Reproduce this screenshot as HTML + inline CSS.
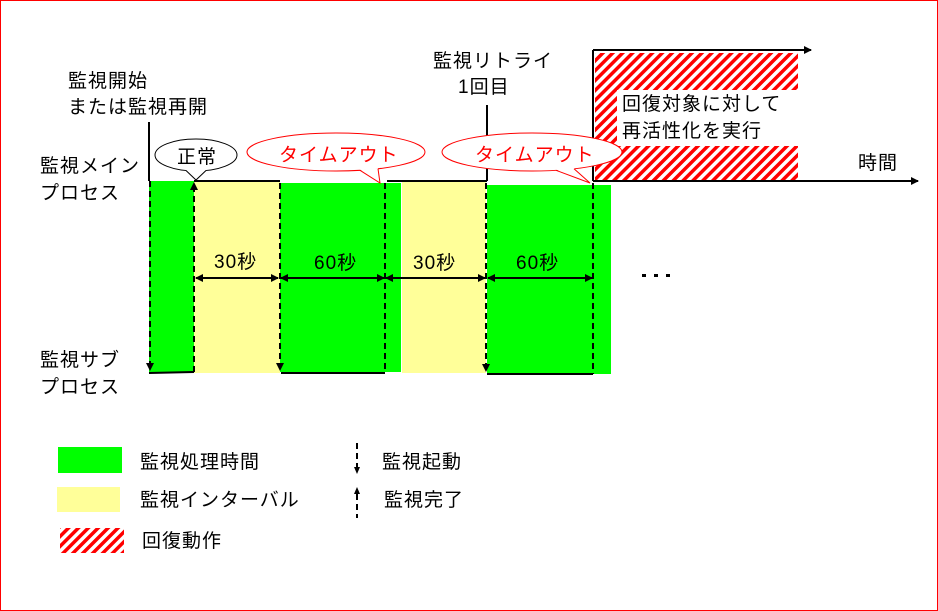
<!DOCTYPE html>
<html><head><meta charset="utf-8"><style>
html,body{margin:0;padding:0;background:#fff}
svg{display:block}
text{font-family:"Liberation Sans","Noto Sans CJK JP",sans-serif;font-size:19px;fill:#000;letter-spacing:1px}
</style></head><body>
<svg width="938" height="611" viewBox="0 0 938 611" xmlns="http://www.w3.org/2000/svg">
<defs>
<pattern id="h" width="7" height="7" patternUnits="userSpaceOnUse" patternTransform="rotate(45)">
<rect width="7" height="7" fill="#fff"/><rect width="3.5" height="7" fill="#f00"/>
</pattern>
<marker id="a" markerWidth="8" markerHeight="8" refX="7" refY="4" orient="auto" markerUnits="userSpaceOnUse"><path d="M0,0 L8,4 L0,8z" fill="#000"/></marker>
<marker id="b" markerWidth="8" markerHeight="8" refX="1" refY="4" orient="auto" markerUnits="userSpaceOnUse"><path d="M8,0 L0,4 L8,8z" fill="#000"/></marker>
</defs>
<rect x="0.5" y="0.5" width="937" height="610" fill="#fff" stroke="#f00"/>
<rect x="149" y="181" width="45" height="192" fill="#00ff00"/>
<rect x="194" y="181" width="86" height="192" fill="#ffff99"/>
<rect x="280" y="183" width="121" height="189" fill="#00ff00"/>
<rect x="402" y="181" width="84" height="192" fill="#ffff99"/>
<rect x="487" y="185" width="124" height="189" fill="#00ff00"/>
<rect x="595" y="53" width="203" height="128" fill="url(#h)"/>
<rect x="617" y="90" width="182" height="56" fill="#fff"/>
<g stroke="#000" stroke-width="2" fill="none">
<line x1="149" y1="122" x2="149" y2="181"/>
<line x1="194" y1="181" x2="280" y2="181"/>
<line x1="387" y1="181" x2="487" y2="181"/>
<line x1="487" y1="105" x2="487" y2="181"/>
<line x1="593" y1="181" x2="918" y2="181" marker-end="url(#a)"/>
<line x1="593" y1="181" x2="593" y2="50"/>
<line x1="593" y1="50" x2="811" y2="50" marker-end="url(#a)"/>
<line x1="149" y1="373" x2="194" y2="372"/>
<line x1="281" y1="373" x2="385" y2="373"/>
<line x1="487" y1="374" x2="593" y2="374"/>
</g>
<g stroke="#000" stroke-width="2" stroke-dasharray="6,4" fill="none">
<line x1="150" y1="181" x2="150" y2="370" marker-end="url(#a)"/>
<line x1="194" y1="372" x2="194" y2="183" marker-end="url(#a)"/>
<line x1="280" y1="183" x2="280" y2="370" marker-end="url(#a)"/>
<line x1="385" y1="183" x2="385" y2="373"/>
<line x1="486" y1="183" x2="486" y2="371" marker-end="url(#a)"/>
<line x1="593" y1="183" x2="593" y2="374"/>
</g>
<g stroke="#000" stroke-width="2" fill="none">
<line x1="196" y1="278" x2="278" y2="278" marker-start="url(#b)" marker-end="url(#a)"/>
<line x1="281" y1="278" x2="384" y2="278" marker-start="url(#b)" marker-end="url(#a)"/>
<line x1="386" y1="278" x2="485" y2="278" marker-start="url(#b)" marker-end="url(#a)"/>
<line x1="488" y1="278" x2="592" y2="278" marker-start="url(#b)" marker-end="url(#a)"/>
</g>
<text x="214" y="268">30秒</text>
<text x="314" y="269">60秒</text>
<text x="413" y="269">30秒</text>
<text x="516" y="269">60秒</text>
<g fill="#000"><rect x="642" y="274" width="4" height="3"/><rect x="654" y="274" width="4" height="3"/><rect x="666" y="274" width="4" height="3"/></g>
<ellipse cx="196" cy="155" rx="41" ry="16" fill="#fff" stroke="#000" stroke-width="1"/>
<polygon points="186,170 196,180 206,170" fill="#fff"/>
<polyline points="186,170.5 196,180 206,170.5" fill="none" stroke="#000" stroke-width="1"/>
<text x="177" y="163">正常</text>
<ellipse cx="336" cy="152" rx="89" ry="19" fill="#fff" stroke="#f00" stroke-width="1"/>
<polygon points="360,169.5 380,183 378,168" fill="#fff"/>
<polyline points="360,170.3 380,183 378,168.7" fill="none" stroke="#f00" stroke-width="1"/>
<text x="279" y="161" style="fill:#f00">タイムアウト</text>
<ellipse cx="532" cy="152" rx="90" ry="19" fill="#fff" stroke="#f00" stroke-width="1"/>
<polygon points="556,169.5 590,183 574,168" fill="#fff"/>
<polyline points="556,170.3 590,183 574,168.7" fill="none" stroke="#f00" stroke-width="1"/>
<text x="475" y="161" style="fill:#f00">タイムアウト</text>
<text x="68" y="87">監視開始</text>
<text x="68" y="113">または監視再開</text>
<text x="40" y="172">監視メイン</text>
<text x="40" y="199">プロセス</text>
<text x="40" y="366">監視サブ</text>
<text x="40" y="393">プロセス</text>
<text x="433" y="67">監視リトライ</text>
<text x="458" y="93">1回目</text>
<text x="622" y="110">回復対象に対して</text>
<text x="622" y="137">再活性化を実行</text>
<text x="858" y="169">時間</text>
<rect x="58" y="447" width="64" height="26" fill="#00ff00"/>
<rect x="57" y="487" width="63" height="25" fill="#ffff99"/>
<rect x="60" y="528" width="64" height="25" fill="url(#h)"/>
<text x="140" y="468">監視処理時間</text>
<text x="140" y="506">監視インターバル</text>
<text x="142" y="547">回復動作</text>
<g stroke="#000" stroke-width="2" stroke-dasharray="6,4"><line x1="357" y1="443" x2="357" y2="468"/><line x1="357" y1="494" x2="357" y2="518"/></g>
<path d="M354,467 L360,467 L357,474Z" fill="#000"/>
<path d="M354,494 L360,494 L357,487Z" fill="#000"/>
<text x="382" y="468">監視起動</text>
<text x="384" y="506">監視完了</text>
</svg>
</body></html>
